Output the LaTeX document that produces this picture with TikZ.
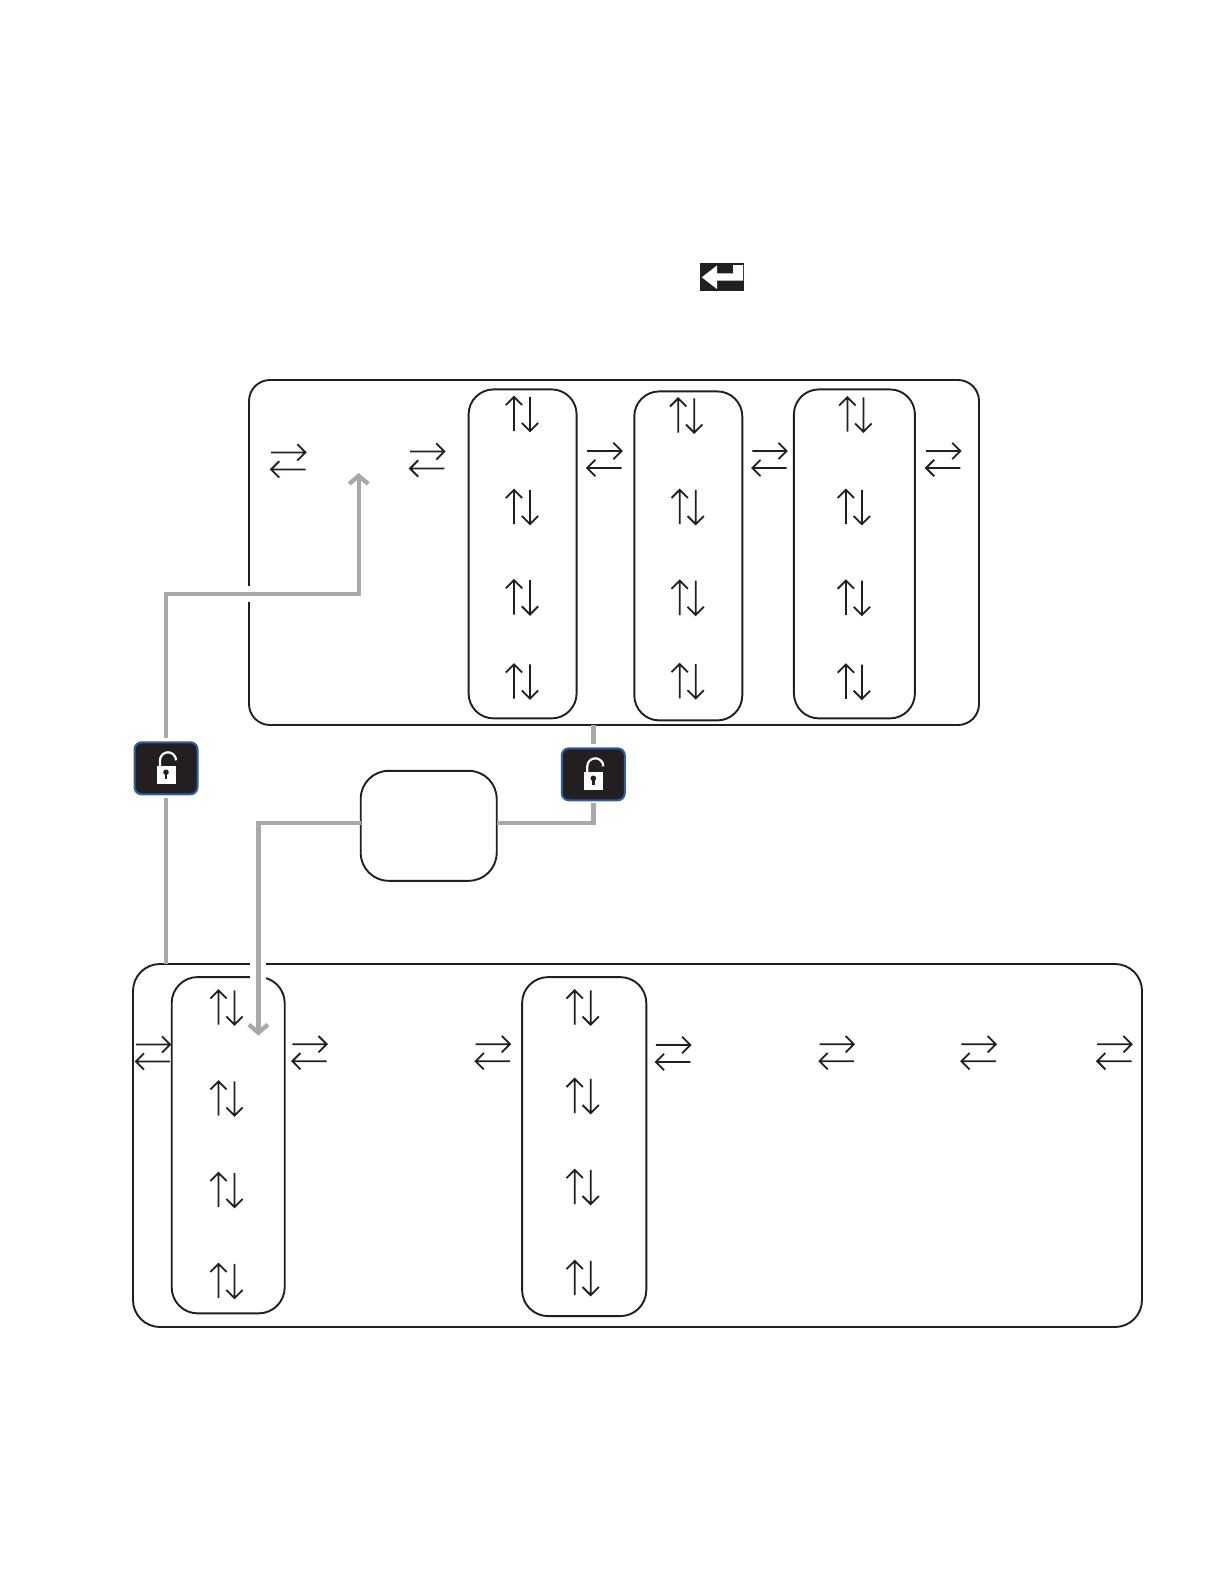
\documentclass[tikz,border=0pt]{standalone}
\usetikzlibrary{arrows.meta}
\definecolor{ink}{HTML}{231F20}
\definecolor{wire}{HTML}{A9A9A9}
\definecolor{lockblue}{HTML}{2F5FA8}
\tikzset{
  x=1pt,y=-1pt,
  panel/.style={draw=ink,line width=1.9pt,rectangle,rounded corners=#1,inner sep=0pt,outer sep=0pt},
  lockbox/.style={draw=lockblue,fill=ink,line width=2pt,rectangle,rounded corners=7pt,minimum width=63pt,minimum height=52pt,inner sep=0pt,outer sep=0pt},
  glyph/.style={draw=ink,line width=1.8pt},
  wireline/.style={draw=wire,line width=4.4pt},
  halo/.style={draw=white,line width=16pt},
  barb/.style={-{Straight Barb[length=8pt,width=19pt,line width=4.4pt]}},
  hpair/.pic={
    \draw[glyph] (-17.2,-8.5) -- (17.2,-8.5) (9,-16.7) -- (17.2,-8.5) -- (9,-0.3);
    \draw[glyph] (17.2,8.5) -- (-17.2,8.5) (-9,0.3) -- (-17.2,8.5) -- (-9,16.7);
  },
  vpair/.pic={
    \draw[glyph] (-8,17.2) -- (-8,-17.2) (-16.2,-9) -- (-8,-17.2) -- (0.2,-9);
    \draw[glyph] (8,-17.2) -- (8,17.2) (-0.2,9) -- (8,17.2) -- (16.2,9);
  },
  lockicon/.pic={
    \fill[white] (-9,-2) rectangle (10,16);
    \draw[white,line width=2.2pt] (-6,-2) -- (-6,-8) arc[start angle=180,end angle=360,radius=8];
    \fill[ink] (0,4) circle (2.8);
    \fill[ink] (-1.2,4) rectangle (1.2,11);
  }
}
\begin{document}
\begin{tikzpicture}
\useasboundingbox[fill=white] (0,0) rectangle (1224,1584);
% panels
\node[panel=21pt,minimum width=730pt,minimum height=345pt] (top) at (614,552.5) {};
\node[panel=27pt,minimum width=1009pt,minimum height=363pt] (bottom) at (637.5,1145.5) {};
\node[panel=25pt,minimum width=108pt,minimum height=329pt] (t1) at (522.6,553.9) {};
\node[panel=25pt,minimum width=108pt,minimum height=329pt] (t2) at (688.3,555.9) {};
\node[panel=25pt,minimum width=121pt,minimum height=329pt] (t3) at (854.4,553.9) {};
\node[panel=26pt,minimum width=113pt,minimum height=336.3pt] (b1) at (228.2,1145.2) {};
\node[panel=26pt,minimum width=124.2pt,minimum height=339pt] (b2) at (584.2,1146.6) {};
\node[panel=28pt,minimum width=136pt,minimum height=110pt] (mid) at (428.7,825.8) {};
% locks
\node[lockbox] (lockA) at (166,768.3) {};
\node[lockbox] (lockB) at (593.3,774.3) {};
\pic at (lockA.center) {lockicon};
\pic at (lockB.center) {lockicon};
\coordinate (tipA) at (358.7,473);
\coordinate (tipB) at (258.4,1035.5);
\coordinate (lockAn) at ([yshift=4pt]lockA.north);
\coordinate (lockAs) at ([yshift=-4pt]lockA.south);
\coordinate (lockBn) at ([yshift=4pt]lockB.north);
\coordinate (lockBs) at ([yshift=-3pt]lockB.south);
% connectors
\draw[halo] (lockAn) -- (lockAn |- 0,594) -- (tipA |- 0,594) -- (tipA);
\draw[wireline,barb,line join=miter] (lockAn) -- (lockAn |- 0,594) -- (tipA |- 0,594) -- (tipA);
\draw[wireline] (lockAs) -- (lockAs |- bottom.north);
\draw[wireline] (top.south -| lockB) -- (lockBn);
\draw[wireline] (lockBs) -- (lockBs |- 0,823) -- (mid.east |- 0,823);
\draw[halo] ([xshift=-12pt]mid.west |- 0,823) -- (tipB |- 0,823) -- ([yshift=-8pt]tipB);
\draw[wireline,barb] (mid.west |- 0,823) -- (tipB |- 0,823) -- (tipB);
% horizontal arrow pairs
\foreach \p in {(288.3,460.9),(427.2,460),(604.4,459.5),(769.5,459.5),(943.2,459.5),
                (153,1053),(309.5,1052.7),(492.8,1052.7),(673.1,1053.5),(836.7,1052.7),(978.6,1052.7),(1114.4,1052.7)}
  \pic at \p {hpair};
% vertical arrow pairs
\foreach \p in {(522,414),(522,507),(522,597.3),(522,681.5),
                (686.2,415.5),(687.7,507),(687.7,597.8),(687.7,681.2),
                (855.4,414.5),(853.9,507),(853.9,597.8),(853.9,681.7),
                (226.5,1007.5),(226.5,1098.5),(226.5,1190),(226.5,1281),
                (582.7,1007.5),(582.7,1096),(582.7,1187),(582.7,1278)}
  \pic at \p {vpair};
% enter key
\fill[ink] (700,262.7) rectangle (743.5,290.7);
\fill[white] (701.7,277.3) -- (717,265.5) -- (717,273.3) -- (733,273.3) -- (733,265) -- (743,265) -- (743,280.7) -- (717,280.7) -- (717,289) -- cycle;
\end{tikzpicture}
\end{document}
